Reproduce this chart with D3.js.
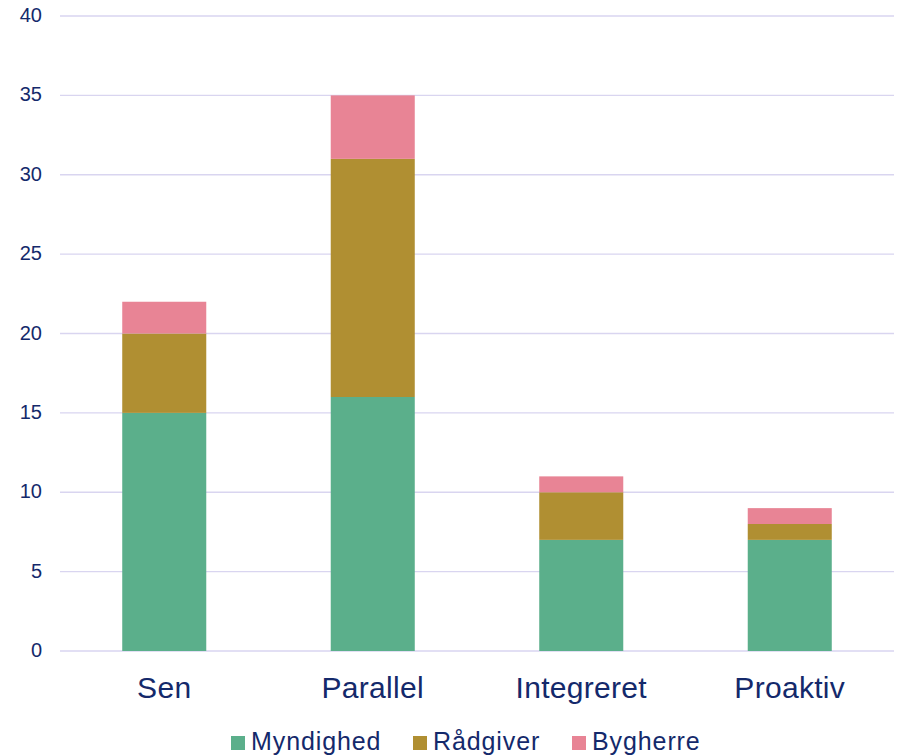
<!DOCTYPE html>
<html>
<head>
<meta charset="utf-8">
<script src="https://cdn.jsdelivr.net/npm/d3@7"></script>
<style>
html,body{margin:0;padding:0;background:#fff;}
svg{display:block;font-family:"Liberation Sans",Arial,sans-serif;}
</style>
</head>
<body>
<svg id="chart" width="904" height="756"></svg>
<script>
const categories = ["Sen", "Parallel", "Integreret", "Proaktiv"];
const seriesNames = ["Myndighed", "Rådgiver", "Bygherre"];
const myndighed = [15, 16, 7, 7];
const raadgiver = [5, 15, 3, 1];
const bygherre = [2, 4, 1, 1];
const yTicks = [0, 5, 10, 15, 20, 25, 30, 35, 40];
const colors = ["#5BAF8B", "#B08F32", "#E88495"];

const textColor = "#14296B";
const gridColor = "#D9D5F0";

const svg = d3.select("#chart");
const margin = {left: 60, right: 10, top: 16, bottom: 105};
const W = 904, H = 756;

const rows = categories.map((c, i) => ({
  cat: c, Myndighed: myndighed[i], "Rådgiver": raadgiver[i], Bygherre: bygherre[i]
}));
const stack = d3.stack().keys(seriesNames)(rows);

const x = d3.scaleBand().domain(categories)
  .range([margin.left, W - margin.right]).paddingInner(0.597).paddingOuter(0.2985);
const y = d3.scaleLinear().domain([0, 40]).range([H - margin.bottom, margin.top]);

// gridlines
svg.append("g").selectAll("line").data(yTicks).join("line")
  .attr("x1", margin.left).attr("x2", W - margin.right)
  .attr("y1", d => y(d)).attr("y2", d => y(d))
  .attr("stroke", gridColor).attr("stroke-width", 1.3);

// y labels
svg.append("g").selectAll("text").data(yTicks).join("text")
  .attr("x", 42).attr("y", d => y(d)).attr("dy", "0.3em")
  .attr("text-anchor", "end").attr("font-size", 20).attr("fill", textColor)
  .text(d => d);

// bars
svg.append("g").selectAll("g").data(stack).join("g")
  .attr("fill", (d, i) => colors[i])
  .selectAll("rect").data(d => d).join("rect")
  .attr("x", d => x(d.data.cat))
  .attr("width", x.bandwidth())
  .attr("y", d => y(d[1]))
  .attr("height", d => y(d[0]) - y(d[1]));

// x labels
svg.append("g").selectAll("text").data(categories).join("text")
  .attr("x", d => x(d) + x.bandwidth() / 2).attr("y", 698)
  .attr("text-anchor", "middle").attr("font-size", 30).attr("letter-spacing", 0.3)
  .attr("fill", textColor)
  .text(d => d);

// legend
const legendItems = [
  {name: seriesNames[0], x: 231},
  {name: seriesNames[1], x: 413},
  {name: seriesNames[2], x: 572}
];
const lg = svg.append("g").selectAll("g").data(legendItems).join("g");
lg.append("rect").attr("x", d => d.x).attr("y", 736).attr("width", 14).attr("height", 14)
  .attr("fill", (d, i) => colors[i]);
lg.append("text").attr("x", d => d.x + 20).attr("y", 749.5)
  .attr("font-size", 25).attr("letter-spacing", 0.9).attr("fill", textColor).text(d => d.name);
</script>
</body>
</html>
